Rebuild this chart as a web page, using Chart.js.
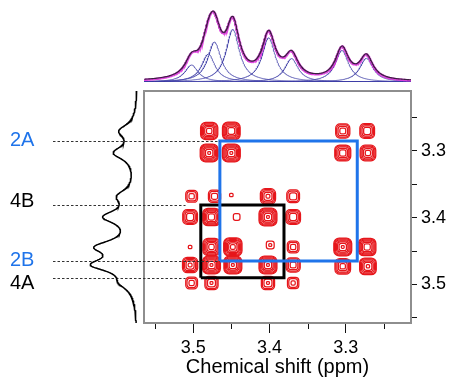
<!DOCTYPE html>
<html>
<head>
<meta charset="utf-8">
<script src="https://cdn.jsdelivr.net/npm/chart.js@4/dist/chart.umd.min.js"></script>
<style>
  html, body { margin: 0; padding: 0; background: #fff; }
  #wrap { position: relative; width: 455px; height: 379px; }
  #wrap canvas { position: absolute; left: 0; top: 0; }
</style>
</head>
<body>
<div id="wrap">
  <canvas id="main" width="455" height="379"></canvas>
  <canvas id="proj1" width="455" height="379"></canvas>
  <canvas id="proj2" width="455" height="379"></canvas>
</div>
<script>
// ---- axis ranges (ppm) ----
const f2Range = [3.2146, 3.5644];   // horizontal (direct) dimension
const f1Range = [3.210, 3.558];     // vertical (indirect) dimension
const minorTicks = [3.55, 3.45, 3.35, 3.25];

// ---- 2D cross peaks: F2 shift, F1 shift, relative intensity ----
const peakF2 = [
  3.479, 3.450, 3.304, 3.272,
  3.479, 3.450, 3.304, 3.271,
  3.502, 3.472, 3.450, 3.402, 3.369,
  3.504, 3.476, 3.443, 3.402, 3.369,
  3.504, 3.476, 3.448, 3.399, 3.369, 3.304, 3.272,
  3.504, 3.476, 3.448, 3.402, 3.369, 3.304, 3.271,
  3.502, 3.476, 3.402, 3.369
];
const peakF1 = [
  3.270, 3.270, 3.270, 3.270,
  3.303, 3.303, 3.303, 3.303,
  3.368, 3.368, 3.366, 3.368, 3.368,
  3.399, 3.399, 3.399, 3.399, 3.399,
  3.444, 3.444, 3.444, 3.441, 3.444, 3.444, 3.444,
  3.471, 3.471, 3.471, 3.471, 3.471, 3.473, 3.473,
  3.498, 3.498, 3.498, 3.498
];
const peakInt = [
  0.85, 0.95, 0.45, 0.50,
  1.00, 1.00, 0.65, 0.60,
  0.30, 0.32, 0.13, 0.55, 0.35,
  0.50, 0.90, 0.16, 1.00, 0.50,
  0.13, 0.85, 1.10, 0.18, 0.30, 1.00, 0.90,
  0.55, 1.00, 1.00, 1.00, 0.45, 0.60, 0.75,
  0.30, 0.38, 0.38, 0.28
];
const contourLevels = [0.12, 0.17, 0.25, 0.36, 0.50, 0.70, 0.95];

// ---- assignments ----
const assignLabels = ['2A', '4B', '2B', '4A'];
const assignShifts = [3.285, 3.381, 3.465, 3.490];
const assignColors = ['#1f74ea', '#000000', '#1f74ea', '#000000'];
const labelNudge = [-1, -4, -1, 6];           // px, keeps close labels apart
const guideEnd = [3.465, 3.510, 3.465, 3.510]; // where each guide line stops (ppm)

// ---- 1D projection on top: fitted Lorentzian components ----
const fitCenters = [3.502, 3.480, 3.472, 3.448, 3.401, 3.371, 3.305, 3.273];
const fitHeights = [17.0, 28.0, 39.9, 52.5, 44.1, 23.4, 31.5, 23.6];
const fitHalfWidth = 0.0105;

// ---- 1D projection on the left ----
const f1Centers = [3.270, 3.303, 3.368, 3.399, 3.444, 3.471, 3.498];
const f1Heights = [16.0, 21.5, 15.5, 29.4, 34.7, 39.0, 11.0];
const f1HalfWidth = 0.012;

const FONT = '"Liberation Sans", Arial, sans-serif';
const RED = '#e6161b';

function lorentz(v, c, h, w) { const d = (v - c) / w; return h / (1 + d * d); }
function sampleGrid(lo, hi, step) { const g = []; for (let v = lo; v <= hi + 1e-9; v += step) g.push(v); return g; }

// ---------- main 2D spectrum ----------
const sigmaPx = 4.35;
const contourSets = contourLevels.map(level => {
  const pts = [], radii = [];
  peakInt.forEach((I, i) => {
    if (I > level) {
      pts.push({ x: peakF2[i], y: peakF1[i] });
      radii.push(sigmaPx * Math.sqrt(2 * Math.log(I / level)) / 0.858);
    }
  });
  return {
    type: 'scatter', data: pts, pointRadius: radii, pointStyle: 'rectRounded',
    pointBorderColor: RED, pointBackgroundColor: 'rgba(0,0,0,0)', pointBorderWidth: 1.25,
    showLine: false, order: 2
  };
});

function box(a, b) { return [{x: a, y: a}, {x: b, y: a}, {x: b, y: b}, {x: a, y: b}, {x: a, y: a}]; }
const boxSets = [
  { data: box(assignShifts[2], assignShifts[0]), color: assignColors[0] },
  { data: box(assignShifts[3], assignShifts[1]), color: '#000000' }
].map(b => ({
  type: 'line', data: b.data, borderColor: b.color, borderWidth: 3, pointRadius: 0,
  tension: 0, fill: false, borderJoinStyle: 'miter', order: 0
}));

const decor = {
  id: 'decor',
  afterDraw(chart) {
    const { ctx, chartArea: a, scales: { x, y } } = chart;
    ctx.save();
    // plot frame
    ctx.strokeStyle = '#8e8e8e';
    ctx.lineWidth = 2;
    ctx.strokeRect(a.left, a.top, a.right - a.left, a.bottom - a.top);
    // short minor ticks on the shift axis
    ctx.strokeStyle = '#111';
    ctx.lineWidth = 1;
    minorTicks.forEach(v => {
      const px = Math.round(x.getPixelForValue(v)) + 0.5;
      ctx.beginPath(); ctx.moveTo(px, a.bottom + 1); ctx.lineTo(px, a.bottom + 6); ctx.stroke();
    });
    // assignment guides and labels
    ctx.setLineDash([2.5, 2]);
    ctx.strokeStyle = '#333';
    assignShifts.forEach((s, i) => {
      const py = Math.round(y.getPixelForValue(s)) + 0.5;
      ctx.beginPath(); ctx.moveTo(53, py); ctx.lineTo(x.getPixelForValue(guideEnd[i]), py); ctx.stroke();
    });
    ctx.setLineDash([]);
    ctx.font = '20px ' + FONT;
    ctx.textBaseline = 'middle';
    ctx.textAlign = 'left';
    assignLabels.forEach((t, i) => {
      ctx.fillStyle = assignColors[i];
      ctx.fillText(t, 10, y.getPixelForValue(assignShifts[i]) + labelNudge[i]);
    });
    ctx.restore();
  }
};

new Chart(document.getElementById('main'), {
  type: 'scatter',
  data: { datasets: [...boxSets, ...contourSets] },
  options: {
    responsive: false, animation: false, events: [],
    layout: { padding: { left: 144, top: 91, right: 0, bottom: 0 } },
    plugins: { legend: { display: false }, tooltip: { enabled: false } },
    scales: {
      x: {
        type: 'linear', position: 'bottom', reverse: true,
        min: f2Range[0], max: f2Range[1],
        afterFit(s) { s.height = 56; },
        border: { display: false },
        grid: { display: true, drawOnChartArea: false, drawTicks: true, tickLength: 10, tickColor: '#111', tickWidth: 1 },
        ticks: {
          stepSize: 0.1, includeBounds: false, autoSkip: false, maxRotation: 0,
          padding: 4, color: '#000', font: { family: FONT, size: 18 },
          callback: v => v.toFixed(1)
        },
        title: { display: true, text: 'Chemical shift (ppm)', color: '#000',
                 font: { family: FONT, size: 20, lineHeight: 1.0 }, padding: { top: 0, bottom: 2 } }
      },
      y: {
        type: 'linear', position: 'right', reverse: true,
        min: f1Range[0], max: f1Range[1],
        afterFit(s) { s.width = 44; },
        border: { display: false },
        grid: { display: true, drawOnChartArea: false, drawTicks: true, tickLength: 6, tickColor: '#111', tickWidth: 1 },
        ticks: {
          stepSize: 0.05, includeBounds: false, autoSkip: false,
          padding: 4, color: '#000', font: { family: FONT, size: 18 },
          callback: v => (Math.abs(v * 10 - Math.round(v * 10)) < 1e-6 ? v.toFixed(1) : '')
        }
      }
    }
  },
  plugins: [decor]
});

// ---------- top projection with deconvolution ----------
const topGrid = sampleGrid(f2Range[0], f2Range[1], 0.0005);
const componentSets = fitCenters.map((c, k) => ({
  data: topGrid.map(v => ({ x: v, y: lorentz(v, c, fitHeights[k], fitHalfWidth) })),
  borderColor: 'rgba(60,60,165,0.75)', borderWidth: 1, pointRadius: 0, showLine: true, order: 3
}));
const totalTop = topGrid.map(v => ({
  x: v, y: fitCenters.reduce((s, c, k) => s + lorentz(v, c, fitHeights[k], fitHalfWidth), 0)
}));
new Chart(document.getElementById('proj1'), {
  type: 'scatter',
  data: {
    datasets: [
      { data: totalTop.map(p => ({ x: p.x, y: p.y + 0.6 })), borderColor: '#3a2040', borderWidth: 1.1, pointRadius: 0, showLine: true, order: 0 },
      { data: totalTop, borderColor: 'rgba(220,50,220,0.9)', borderWidth: 2.4, pointRadius: 0, showLine: true, order: 1 },
      ...componentSets
    ]
  },
  options: {
    responsive: false, animation: false, events: [],
    layout: { padding: { left: 144, right: 44, top: 7, bottom: 297 } },
    plugins: { legend: { display: false }, tooltip: { enabled: false } },
    scales: {
      x: { type: 'linear', display: false, reverse: true, min: f2Range[0], max: f2Range[1] },
      y: { type: 'linear', display: false, min: 0, max: 75 }
    }
  }
});

// ---------- left projection ----------
const sideGrid = sampleGrid(f1Range[0], f1Range[1], 0.0005);
const sideTrace = sideGrid.map(v => ({
  y: v, x: f1Centers.reduce((s, c, k) => s + lorentz(v, c, f1Heights[k], f1HalfWidth), 0)
}));
new Chart(document.getElementById('proj2'), {
  type: 'scatter',
  data: { datasets: [{ data: sideTrace, borderColor: '#000', borderWidth: 1.5, pointRadius: 0, showLine: true, clip: false }] },
  options: {
    responsive: false, animation: false, events: [],
    layout: { padding: { left: 85, right: 317, top: 91, bottom: 56 } },
    plugins: { legend: { display: false }, tooltip: { enabled: false } },
    scales: {
      x: { type: 'linear', display: false, reverse: true, min: 0, max: 53 },
      y: { type: 'linear', display: false, reverse: true, min: f1Range[0], max: f1Range[1] }
    }
  }
});
</script>
</body>
</html>
